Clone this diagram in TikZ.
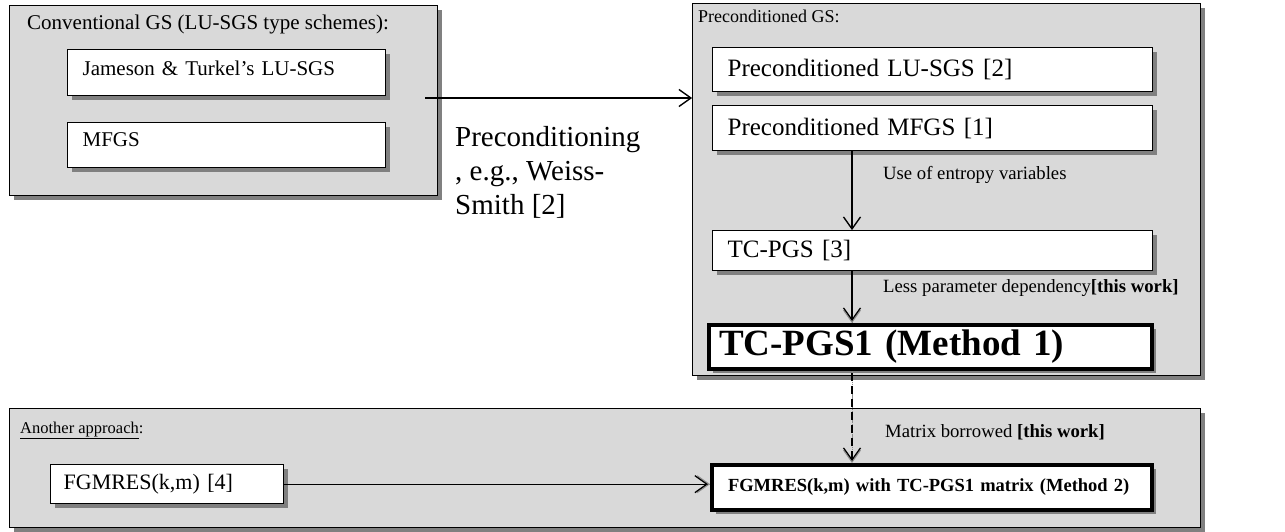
\documentclass[tikz,border=0pt]{standalone}
\usepackage{fontspec}
\setmainfont{Liberation Serif}
\usetikzlibrary{arrows.meta,shadows,calc}
\newcommand{\fsz}[2]{\fontsize{#1pt}{#2pt}\selectfont}
\begin{document}
\begin{tikzpicture}[x=1pt,y=-1pt,
  shd/.style={drop shadow={shadow xshift=4pt,shadow yshift=-4pt,fill=black!50,opacity=1}},
  obox/.style={draw,line width=1.3pt,fill=black!15,shd,anchor=north west,inner sep=0pt},
  ibox/.style={draw,line width=1.3pt,fill=white,shd,anchor=north west,align=left,inner xsep=15pt,inner ysep=0pt},
  tbox/.style={draw,line width=4pt,fill=white,shd,anchor=north west,align=left,inner xsep=16pt,inner ysep=0pt},
  conn/.style={-{Straight Barb[length=12pt,width=17pt,line width=1.3pt]},line width=1.3pt},
  cshadow/.style={-{Straight Barb[length=12pt,width=17pt,line width=0.9pt]},draw=black!45,line width=0.9pt,dash pattern=on 1.5pt off 0.6pt,xshift=2.5pt,yshift=-2.5pt},
  lbl/.style={anchor=west,inner sep=0pt,font=\fsz{18.7}{22}},
  ttl/.style={anchor=base west,inner sep=0pt}]
\useasboundingbox (0,0) rectangle (1285,531);

% containers
\node[obox,minimum width=428pt,minimum height=190pt] (cgs) at (9,5) {};
\node[obox,minimum width=508pt,minimum height=372pt] (pgs) at (692,3) {};
\node[obox,minimum width=1191pt,minimum height=119pt] (ano) at (9,408) {};

\node[ttl,font=\fsz{21}{25}] (tcgs) at (27,29) {Conventional GS (LU-SGS type schemes):};
\node[ttl,font=\fsz{18}{22}] (tpgs) at (698,22) {Preconditioned GS:};
\node[ttl,font=\fsz{16.5}{20}] (tano) at (20,433) {\underline{Another approach}:};

% left boxes
\node[ibox,font=\fsz{21}{25},text width=288pt,minimum width=318pt,minimum height=46pt,text height=15pt,text depth=10pt] (jt) at (67,49) {Jameson \& Turkel's LU-SGS};
\node[ibox,font=\fsz{21}{25},text width=288pt,minimum width=318pt,minimum height=45pt,text height=14pt,text depth=12pt] (mf) at (67,122) {MFGS};

% right boxes
\node[ibox,font=\fsz{25}{30},text width=410pt,minimum width=440pt,minimum height=44pt] (plu) at (712,47) {Preconditioned LU-SGS [2]};
\node[ibox,font=\fsz{25}{30},text width=410pt,minimum width=440pt,minimum height=45pt] (pmf) at (712,105) {Preconditioned MFGS [1]};
\node[ibox,font=\fsz{25}{30},text width=410pt,minimum width=440pt,minimum height=40pt] (tc) at (712,230) {TC-PGS [3]};
\node[tbox,font=\bfseries\fsz{37}{44},text width=423pt,minimum width=443pt,minimum height=44pt,inner xsep=10pt] (tc1) at (707,323) {TC-PGS1 (Method 1)};

% bottom boxes
\node[ibox,font=\fsz{22}{26},minimum width=233pt,minimum height=39pt,inner xsep=13pt,text width=207pt] (fg) at (50,464) {FGMRES(k,m) [4]};
\node[tbox,font=\bfseries\fsz{18.5}{22},text width=408pt,minimum width=440pt,minimum height=45pt] (m2) at (710,463) {FGMRES(k,m) with TC-PGS1 matrix (Method 2)};

% coordinates
\coordinate (ax) at (852,0);
\coordinate (a0) at (425,98);

% connector shadows
\draw[cshadow] (a0) -- (a0 -| pgs.west);
\draw[cshadow] (pmf.south -| ax) -- (tc.north -| ax);
\draw[cshadow] (tc.south -| ax) -- (tc1.north -| ax);
\draw[cshadow] (tc1.south -| ax) -- (m2.north -| ax);
\draw[cshadow] (fg.east) -- (fg.east -| m2.west);

% connectors
\draw[conn] (a0) -- (a0 -| pgs.west);
\draw[conn] (pmf.south -| ax) -- (tc.north -| ax);
\draw[conn] (tc.south -| ax) -- ([yshift=2pt]tc1.north -| ax);
\draw[conn,dash pattern=on 8pt off 5pt] ([yshift=-2pt]tc1.south -| ax) -- ([yshift=2pt]m2.north -| ax);
\draw[conn] (fg.east) -- ([xshift=-2pt]fg.east -| m2.west);

% labels
\node[anchor=north west,inner sep=0pt,align=left,font=\fsz{29}{34}] (pre) at (455,126) {Preconditioning\\, e.g., Weiss-\\Smith [2]};
\node[lbl] (l1) at (883,175) {Use of entropy variables};
\node[lbl] (l2) at (883,288) {Less parameter dependency\textbf{[this work]}};
\node[lbl] (l3) at (885,432) {Matrix borrowed \textbf{[this work]}};
\end{tikzpicture}
\end{document}
